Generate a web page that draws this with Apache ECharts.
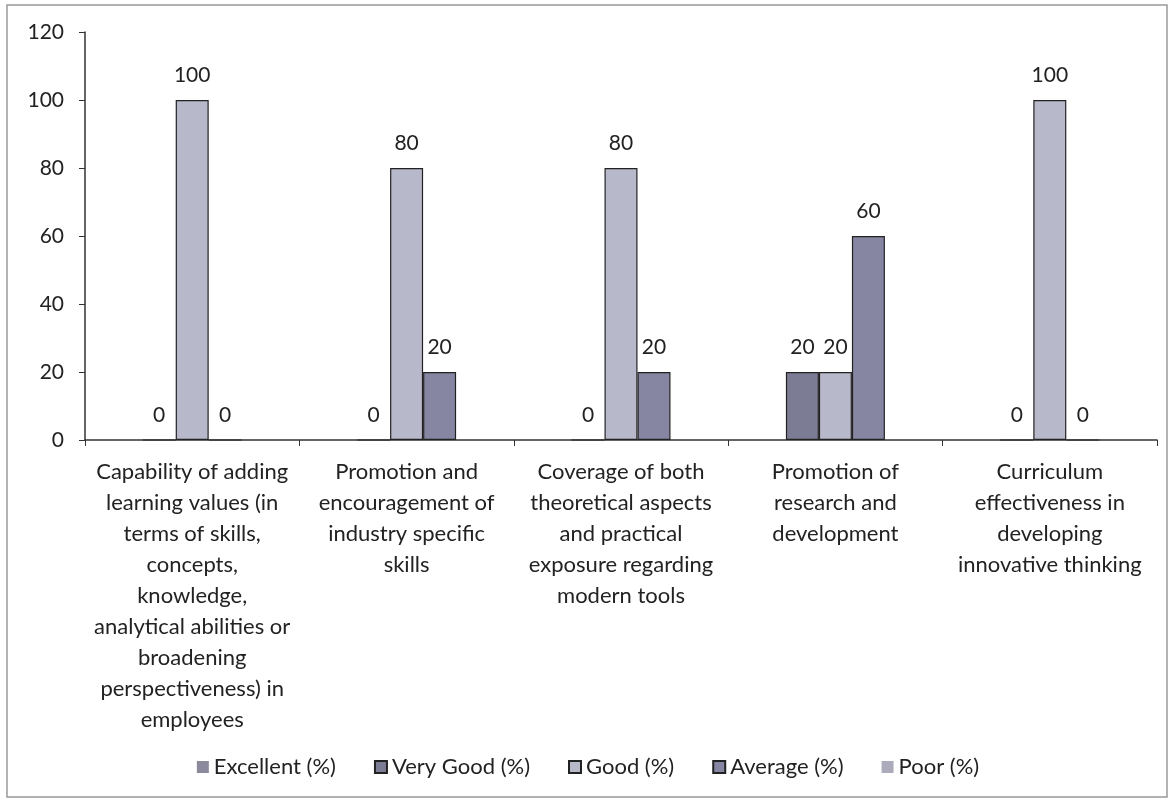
<!DOCTYPE html>
<html><head><meta charset="utf-8">
<script src="https://cdn.jsdelivr.net/npm/echarts@6/dist/echarts.min.js"></script>
<style>html,body{margin:0;padding:0;background:#fff}#c{width:1176px;height:802px}</style>
</head><body><div id="c"></div>
<script>
const categories = [
  "Capability of adding\nlearning values (in\nterms of skills,\nconcepts,\nknowledge,\nanalytical abilities or\nbroadening\nperspectiveness) in\nemployees",
  "Promotion and\nencouragement of\nindustry specific\nskills",
  "Coverage of both\ntheoretical aspects\nand practical\nexposure regarding\nmodern tools",
  "Promotion of\nresearch and\ndevelopment",
  "Curriculum\neffectiveness in\ndeveloping\ninnovative thinking"
];
const seriesNames = ["Excellent (%)", "Very Good (%)", "Good (%)", "Average (%)", "Poor (%)"];
const excellent = [null, null, null, null, null];
const veryGood = [0, 0, 0, 20, 0];
const good = [100, 80, 80, 20, 100];
const average = [0, 20, 20, 60, 0];
const poor = [null, null, null, null, null];
const yTicks = [0, 20, 40, 60, 80, 100, 120];

const colors = ["#8a8a9c", "#7c7c94", "#b8b8cb", "#8686a2", "#ababbb"];
const borders = [0, 1.2, 1.2, 1.2, 0];
const values = [excellent, veryGood, good, average, poor];
const font = "Lato, 'Open Sans', sans-serif";

const chart = echarts.init(document.getElementById('c'));
chart.setOption({
  backgroundColor: '#fff',
  animation: false,
  graphic: [{type:'rect', shape:{x:7,y:5,width:1160,height:792}, style:{fill:'none', stroke:'#999', lineWidth:1.5}, silent:true}],
  grid: {left: 85, right: 19, top: 32, bottom: 362, containLabel: false},
  legend: {
    bottom: 19, left: 'center', itemWidth: 12, itemHeight: 12, itemGap: 38,
    icon: 'rect',
    textStyle: {fontFamily: font, fontSize: 22, color: '#222'},
    data: seriesNames
  },
  xAxis: {
    type: 'category', data: categories,
    axisLine: {lineStyle: {color: '#333', width: 1.5}},
    axisTick: {show: true, length: 6, lineStyle: {color: '#333'}},
    axisLabel: {interval: 0, margin: 16, fontFamily: font, fontSize: 22, lineHeight: 31, color: '#222', align: 'center'}
  },
  yAxis: {
    type: 'value', min: yTicks[0], max: yTicks[yTicks.length-1], interval: 20,
    splitLine: {show: false},
    axisLine: {show: true, lineStyle: {color: '#333', width: 1.5}},
    axisTick: {show: true, length: 6, lineStyle: {color: '#333'}},
    axisLabel: {margin: 21, fontFamily: font, fontSize: 21, color: '#222'}
  },
  series: seriesNames.map((n, i) => ({
    name: n, type: 'bar', data: values[i], barWidth: 33, barGap: '0%',
    itemStyle: {color: colors[i], borderColor: '#222', borderWidth: borders[i]},
    label: {show: true, position: 'top', distance: 14, fontFamily: font, fontSize: 21, color: '#222'}
  }))
});
</script>
</body></html>
